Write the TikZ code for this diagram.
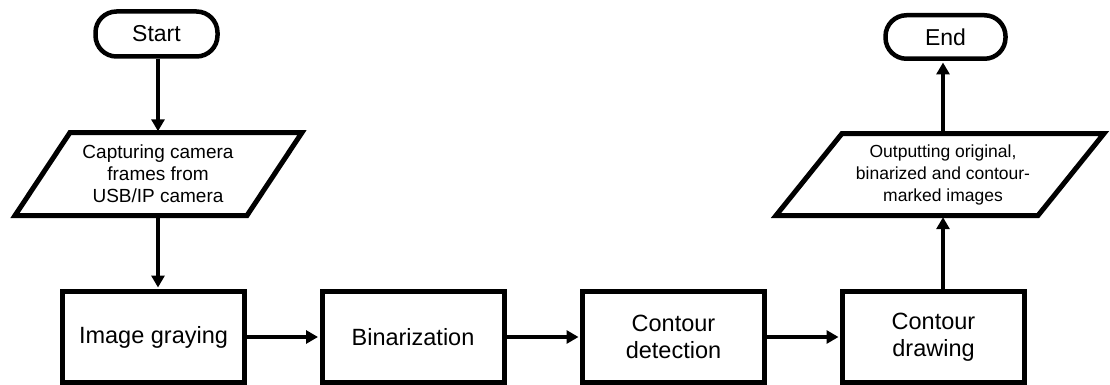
\documentclass[tikz,border=0pt]{standalone}
\usepackage{fontspec}
\setmainfont{Liberation Sans}
\usetikzlibrary{arrows.meta,calc}
\begin{document}
\begin{tikzpicture}[x=1pt,y=-1pt,
  procbox/.style={draw, line width=5pt, minimum width=182pt, minimum height=91pt, inner sep=0pt, align=center, font=\fontsize{23.5}{27.5}\selectfont},
  term/.style={draw, line width=4.5pt, rounded corners=21pt, inner sep=0pt, font=\fontsize{23}{27}\selectfont},
  iotext/.style={inner sep=0pt, minimum height=82pt, align=center},
  ioline/.style={line width=5pt, line join=miter},
  arr/.style={line width=4pt, -{Triangle[length=12pt,width=13pt]}, shorten >=1.5pt}
]
\useasboundingbox (0,0) rectangle (1110,385);
\fill[white] (0,0) rectangle (1110,385);

\node[term, minimum width=122pt, minimum height=45pt] (start) at (156.5,34) {Start};
\node[iotext, font=\fontsize{19}{22}\selectfont] (in1) at (158,174) {Capturing camera\\frames from\\USB/IP camera};
\draw[ioline] ($(in1)+(-88,-41.5)$) -- ($(in1)+(144,-41.5)$) -- ($(in1)+(89,41.5)$) -- ($(in1)+(-143,41.5)$) -- cycle;

\node[procbox] (gray) at (153.5,337) {Image graying};
\node[procbox] (bin) at (413,337) {Binarization};
\node[procbox] (det) at (673.5,337) {Contour\\detection};
\node[procbox] (cdraw) at (933.5,337) {Contour\\drawing};

\node[iotext, font=\fontsize{17.5}{22}\selectfont] (out) at (943,174.5) {Outputting original,\\binarized and contour-\\marked images};
\draw[ioline] ($(out)+(-101,-41)$) -- ($(out)+(161,-41)$) -- ($(out)+(95,41)$) -- ($(out)+(-167,41)$) -- cycle;

\node[term, minimum width=120pt, minimum height=43.5pt] (end) at (945.5,37) {End};

\draw[arr] (start.south -| in1.north) -- (in1.north);
\draw[arr] (in1.south) -- (in1.south |- gray.north);
\draw[arr] (gray.east) -- (bin.west);
\draw[arr] (bin.east) -- (det.west);
\draw[arr] (det.east) -- (cdraw.west);
\draw[arr] (cdraw.north -| out.south) -- (out.south);
\draw[arr] (out.north) -- (out.north |- end.south);
\end{tikzpicture}
\end{document}
